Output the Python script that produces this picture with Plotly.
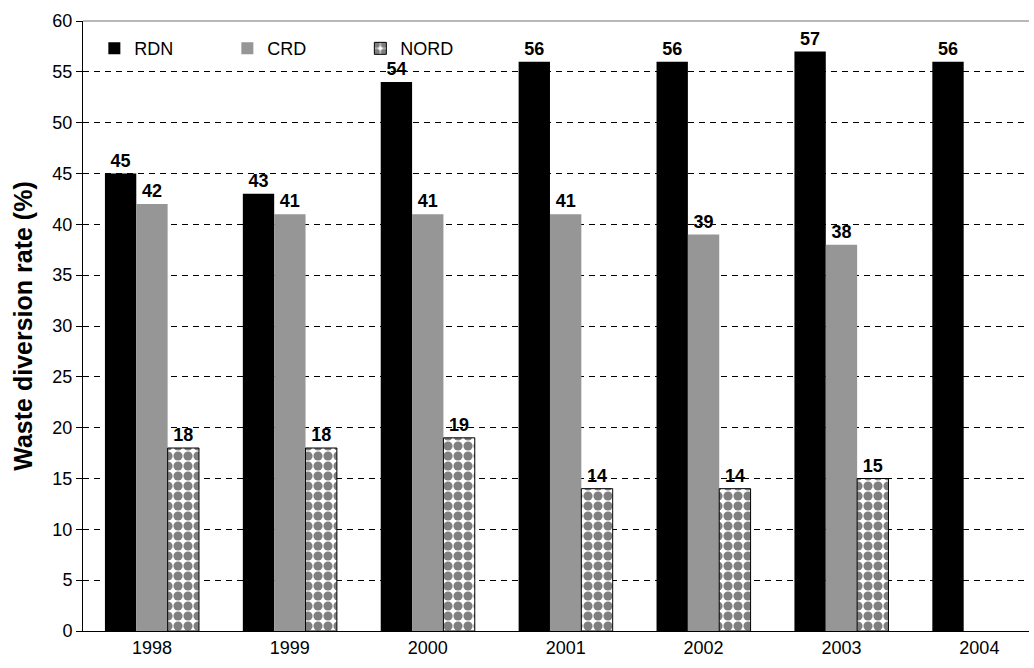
import plotly.graph_objects as go

# Waste diversion rates by region, 1998-2004
years = ["1998", "1999", "2000", "2001", "2002", "2003", "2004"]
rdn = [45, 43, 54, 56, 56, 57, 56]
crd = [42, 41, 41, 41, 39, 38, None]
nord = [18, 18, 19, 14, 14, 15, None]

y_ticks = list(range(0, 61, 5))

FONT = "Liberation Sans, Arial, sans-serif"
label_font = dict(family=FONT, size=18, color="black", weight="bold")


def labels(vals):
    return ["" if v is None else str(v) for v in vals]


fig = go.Figure()
fig.add_trace(go.Bar(
    name="RDN", x=years, y=rdn, text=labels(rdn),
    marker=dict(color="black", line=dict(color="black", width=0)),
))
fig.add_trace(go.Bar(
    name="CRD", x=years, y=crd, text=labels(crd),
    marker=dict(color="#969696", line=dict(color="#969696", width=0)),
))
fig.add_trace(go.Bar(
    name="NORD", x=years, y=nord, text=labels(nord),
    marker=dict(
        color="white",
        line=dict(color="black", width=1),
        pattern=dict(shape=".", fgcolor="black", bgcolor="white",
                     size=10, solidity=0.66, fillmode="overlay"),
    ),
))
fig.update_traces(textposition="outside", textfont=label_font,
                  constraintext="none", cliponaxis=False)

fig.update_layout(
    width=1034, height=668,
    margin=dict(l=83, r=5, t=21, b=37),
    paper_bgcolor="white", plot_bgcolor="white",
    barmode="group", bargap=0.318, bargroupgap=0,
    font=dict(family=FONT, size=18, color="black"),
    showlegend=True,
    legend=dict(
        orientation="h", x=0.012, y=0.985, xanchor="left", yanchor="top",
        bgcolor="rgba(0,0,0,0)", font=dict(family=FONT, size=18, color="black"),
        entrywidth=88, entrywidthmode="pixels", itemwidth=30,
        traceorder="normal",
    ),
    xaxis=dict(
        type="category", range=[-0.5, 6.36],
        showline=True, linecolor="black", linewidth=1,
        ticks="", showgrid=False,
        tickfont=dict(family=FONT, size=18, color="black"),
    ),
    yaxis=dict(
        range=[0, 60], tickvals=y_ticks,
        showline=True, linecolor="black", linewidth=1,
        ticks="outside", ticklen=6, tickcolor="black",
        showgrid=True, gridcolor="black", gridwidth=1, griddash="6px,5px",
        zeroline=False,
        tickfont=dict(family=FONT, size=18, color="black"),
        title=dict(text="Waste diversion rate (%)", standoff=12,
                   font=dict(family=FONT, size=25, color="black", weight="bold")),
    ),
    shapes=[dict(type="line", xref="paper", yref="paper", x0=0, x1=1, y0=1, y1=1,
                 line=dict(color="#a0a0a0", width=1.5), layer="above")],
)

fig.write_html("out.html")
